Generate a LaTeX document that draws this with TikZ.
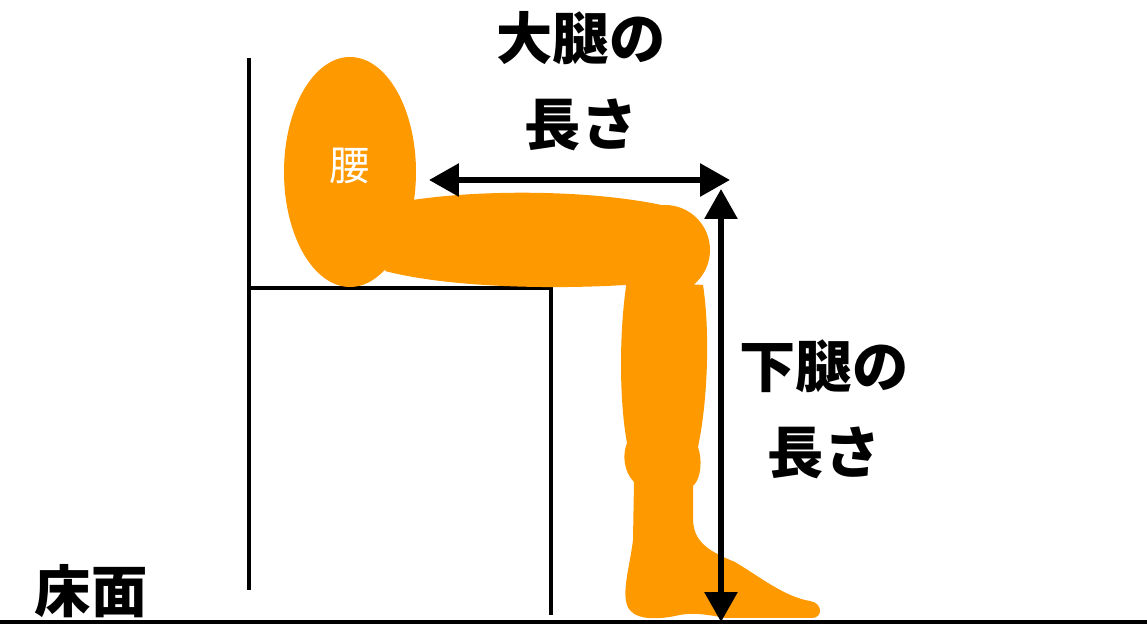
\documentclass[tikz,border=0pt]{standalone}
\usepackage{fontspec}
\newfontfamily\jp{Noto Sans CJK JP}
\usepackage{tikz}
\usetikzlibrary{arrows.meta}
\definecolor{skin}{RGB}{255,153,0}
\tikzstyle{arrow} = [line width=3.4pt,>={Triangle[length=0.6cm,width=0.64cm]}]
\tikzstyle{frame} = [line width=2pt]
\tikzstyle{tag} = [font={\jp\bfseries\fontsize{32}{49}\selectfont}, align=center]

\begin{document}
\begin{tikzpicture}[x=0.02cm, y=-0.02cm]
    \useasboundingbox (0,0) rectangle (1147,624);

    % chair and floor
    \draw[frame] (249,58) -- (249,590);
    \draw[frame] (249,288) -- (551,288) -- (551,615);
    \draw[frame] (0,622) -- (1147,622);

    % hip, thigh and knee
    \fill[skin] (350,172) ellipse [x radius=66, y radius=115];
    \fill[skin] (400,202) .. controls (480,188) and (600,190) .. (670,207)
        -- (640,284) .. controls (560,290) and (450,288) .. (385,271) -- cycle;
    \fill[skin] (665,250) circle [radius=45];

    % lower leg and foot
    \fill[skin] (627,280) .. controls (619,330) and (619,400) .. (627,443)
        .. controls (622,455) and (624,472) .. (634,482)
        -- (633,540) .. controls (630,565) and (622,590) .. (627,605)
        .. controls (632,620) and (655,620) .. (675,616)
        .. controls (690,612) and (705,614) .. (725,618)
        -- (812,618) .. controls (823,618) and (823,603) .. (810,601)
        .. controls (785,597) and (760,577) .. (735,562)
        .. controls (705,550) and (694,540) .. (693,520)
        -- (693,486) .. controls (702,478) and (702,458) .. (698,447)
        .. controls (708,400) and (710,330) .. (703,285) -- cycle;

    \node[font={\jp\fontsize{23}{23}\selectfont}, text=white] (hip) at (350,166) {腰};
    \node[tag] (thigh) at (581,81) {大腿の\\長さ};
    \node[tag] (shin) at (824,409) {下腿の\\長さ};
    \node[tag] (floor) at (91,591) {床面};

    % measuring arrows
    \coordinate (thighL) at (429,180);
    \coordinate (thighR) at (730,180);
    \coordinate (shinT) at (721,189);
    \coordinate (shinB) at (721,622);
    \draw[arrow,<->] (thighL) -- (thighR);
    \draw[arrow,<->] (shinT) -- (shinB);
\end{tikzpicture}
\end{document}
